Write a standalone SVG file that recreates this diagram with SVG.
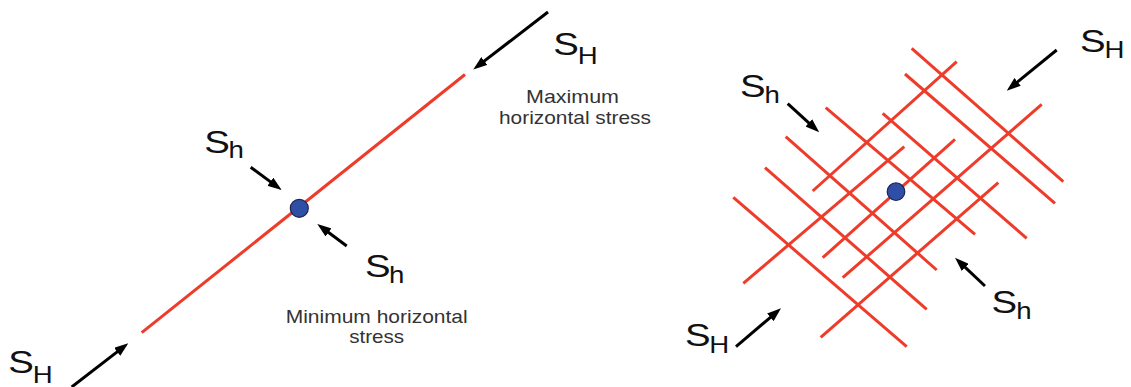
<svg xmlns="http://www.w3.org/2000/svg" width="1131" height="387" viewBox="0 0 1131 387">
<style>
.fault{stroke:#ee3b2a;stroke-width:3;fill:none;stroke-linecap:butt}
.arrow{stroke:#000;stroke-width:3;fill:none}
.dot{fill:#2f4fa6;stroke:#1a2550;stroke-width:1.2}
.big{font-family:"Liberation Sans",Arial,sans-serif;font-size:32px;fill:#111}
.sub{font-family:"Liberation Sans",Arial,sans-serif;font-size:23px;fill:#111}
.cap{font-family:"Liberation Sans",Arial,sans-serif;font-size:19px;fill:#333;text-anchor:middle}
</style>
<defs>
<marker id="head" viewBox="0 0 14 10" refX="4" refY="5" markerWidth="14" markerHeight="10" markerUnits="userSpaceOnUse" orient="auto">
<path d="M0,0 L14,5 L0,10 z" fill="#000"/>
</marker>
</defs>
<rect width="1131" height="387" fill="#fff"/>

<g id="left-fault">
<line class="fault" x1="141.7" y1="332.7" x2="465" y2="74.5"/>
<circle class="dot" cx="299.3" cy="208.3" r="9"/>
</g>

<g id="right-fractures">
<line class="fault" x1="812.7" y1="191" x2="956.7" y2="61.7"/>
<line class="fault" x1="743.3" y1="283.3" x2="904.3" y2="146.7"/>
<line class="fault" x1="822.7" y1="257.7" x2="955" y2="139.3"/>
<line class="fault" x1="842.7" y1="277.7" x2="1041.7" y2="104.3"/>
<line class="fault" x1="820.7" y1="337.3" x2="998.3" y2="182.7"/>
<line class="fault" x1="911.7" y1="48.3" x2="1063.3" y2="181.7"/>
<line class="fault" x1="905" y1="74" x2="1055" y2="203.3"/>
<line class="fault" x1="825.7" y1="107.7" x2="975" y2="234.3"/>
<line class="fault" x1="882.7" y1="113.3" x2="1026.7" y2="238.3"/>
<line class="fault" x1="785.7" y1="136.7" x2="936.7" y2="270"/>
<line class="fault" x1="765" y1="167.7" x2="926.7" y2="309.3"/>
<line class="fault" x1="733.3" y1="197.3" x2="906.7" y2="346.7"/>
<circle class="dot" cx="896" cy="191.7" r="8.8"/>
</g>

<g id="connectors">
<line class="arrow" x1="548" y1="12" x2="481.2" y2="63.4" marker-end="url(#head)"/>
<line class="arrow" x1="71.7" y1="387" x2="120.4" y2="349.4" marker-end="url(#head)"/>
<line class="arrow" x1="250.7" y1="167.3" x2="273.6" y2="184.1" marker-end="url(#head)"/>
<line class="arrow" x1="346.7" y1="246" x2="325.3" y2="230" marker-end="url(#head)"/>
<line class="arrow" x1="1056.7" y1="50" x2="1014.5" y2="84.4" marker-end="url(#head)"/>
<line class="arrow" x1="787.7" y1="103.7" x2="811.8" y2="125.6" marker-end="url(#head)"/>
<line class="arrow" x1="985" y1="286" x2="962.3" y2="264.6" marker-end="url(#head)"/>
<line class="arrow" x1="736" y1="346.7" x2="773.4" y2="314.8" marker-end="url(#head)"/>
</g>

<g id="label-left-SH-top" transform="translate(553.2,55) scale(1.2,1)">
<text class="big" x="0" y="0">S</text><text class="sub" x="20.5" y="9">H</text>
</g>
<g id="label-left-Sh-upper" transform="translate(204.2,152.7) scale(1.2,1)">
<text class="big" x="0" y="0">S</text><text class="sub" x="20.2" y="5.6">h</text>
</g>
<g id="label-left-Sh-lower" transform="translate(364.9,276.7) scale(1.2,1)">
<text class="big" x="0" y="0">S</text><text class="sub" x="20.2" y="6.6">h</text>
</g>
<g id="label-left-SH-bottom" transform="translate(8.2,373.3) scale(1.2,1)">
<text class="big" x="0" y="0">S</text><text class="sub" x="20.5" y="9.4">H</text>
</g>
<g id="label-right-SH-top" transform="translate(1079.9,51.7) scale(1.2,1)">
<text class="big" x="0" y="0">S</text><text class="sub" x="20.5" y="6.6">H</text>
</g>
<g id="label-right-Sh-upper" transform="translate(739.9,96.7) scale(1.2,1)">
<text class="big" x="0" y="0">S</text><text class="sub" x="20.5" y="6">h</text>
</g>
<g id="label-right-Sh-lower" transform="translate(991.5,313.3) scale(1.2,1)">
<text class="big" x="0" y="0">S</text><text class="sub" x="20.6" y="6">h</text>
</g>
<g id="label-right-SH-bottom" transform="translate(684.9,346) scale(1.2,1)">
<text class="big" x="0" y="0">S</text><text class="sub" x="20.3" y="7.3">H</text>
</g>

<g id="caption-max">
<text class="cap" x="572.5" y="102.7" textLength="93" lengthAdjust="spacingAndGlyphs">Maximum</text>
<text class="cap" x="575" y="124" textLength="152" lengthAdjust="spacingAndGlyphs">horizontal stress</text>
</g>
<g id="caption-min">
<text class="cap" x="376.7" y="323.3" textLength="182" lengthAdjust="spacingAndGlyphs">Minimum horizontal</text>
<text class="cap" x="376.7" y="343.3" textLength="55" lengthAdjust="spacingAndGlyphs">stress</text>
</g>
</svg>
